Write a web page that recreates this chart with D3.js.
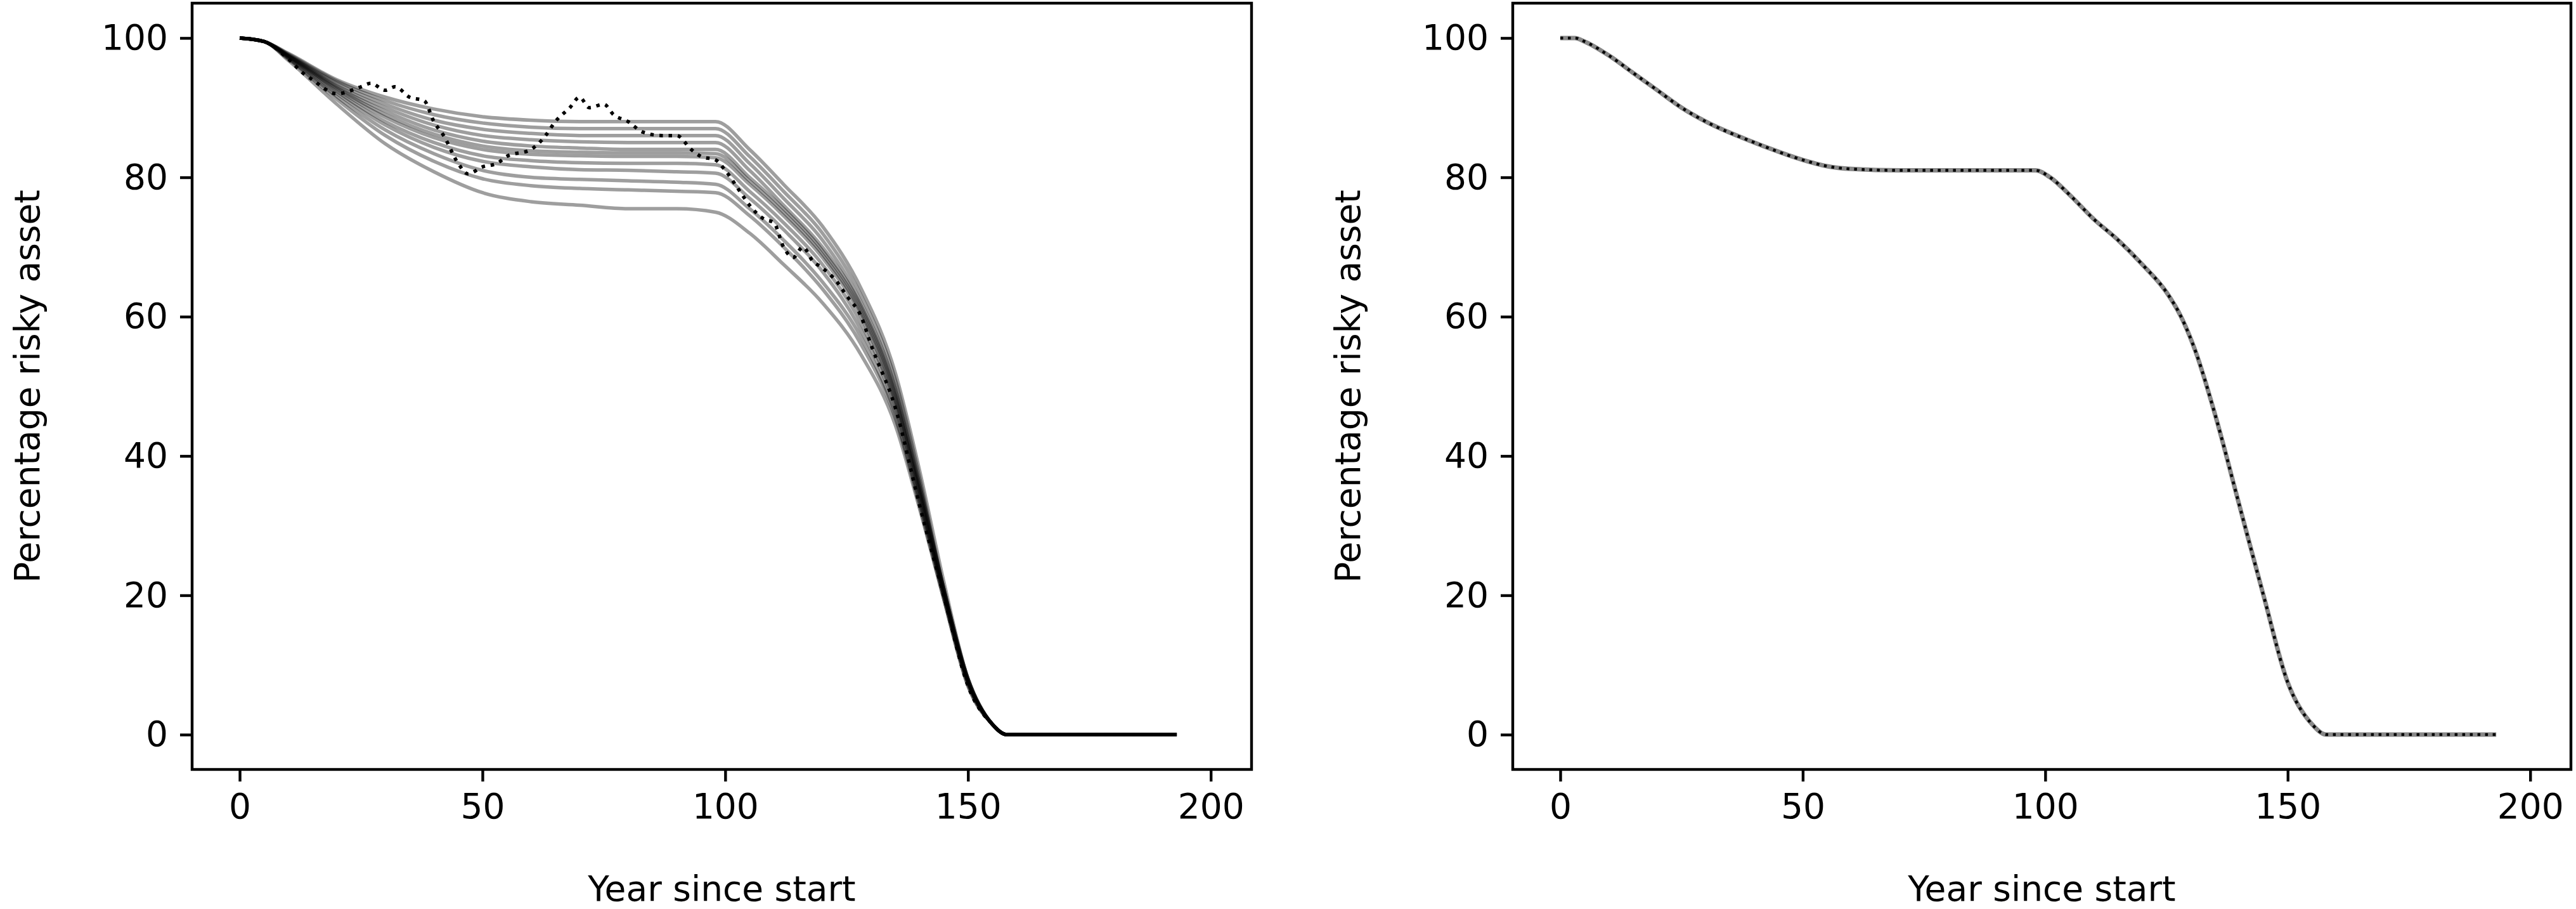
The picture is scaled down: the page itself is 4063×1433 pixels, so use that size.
<!DOCTYPE html>
<html><head><meta charset="utf-8">
<script src="https://cdn.jsdelivr.net/npm/d3@7"></script>
<style>body{margin:0;background:#fff}svg{display:block}</style>
</head><body>
<svg id="c" width="4063" height="1433"></svg>
<script>
const knotYears = [0,5,10,20,30,40,50,60,70,80,90,98,105,112,120,128,135,140,145,150,155,158,165,193];
const paths = [
[100,99.5,97.8,94,91.5,89.8,88.7,88.2,88,88,88,88,84,79,73,64,52,38,22,8,1.5,0,0,0],
[100,99.5,97.7,93.8,91,89,87.8,87.2,87,87,87,87,83,78,72,63,51,37,21,8,1.5,0,0,0],
[100,99.5,97.6,93.5,90.5,88.2,86.9,86.3,86,86,86,86,82,77,71,62,50,36,21,8,1.5,0,0,0],
[100,99.5,97.5,93.2,90,87.5,86,85.4,85.1,85,85,85,81,76,70,61.5,49.5,36,21,8,1.5,0,0,0],
[100,99.5,97.5,93,89.5,86.8,85.2,84.5,84.2,84,84,84,80,75.5,69.5,61,49,35.5,21,8,1.5,0,0,0],
[100,99.5,97.4,92.8,89,86.2,84.5,83.8,83.6,83.5,83.5,83.4,79.5,75,69,60.5,48.5,35,20.5,7.5,1.5,0,0,0],
[100,99.5,97.4,92.6,88.6,85.7,84,83.3,83.1,83,83,82.8,79,74.5,68.5,60,48,35,20.5,7.5,1.5,0,0,0],
[100,99.5,97.3,92.3,88,85,83.1,82.4,82.1,82,82,81.8,78,73.5,67.5,59,47.5,34.5,20,7.5,1.5,0,0,0],
[100,99.5,97.2,92,87.5,84.3,82.3,81.5,81.1,81,80.8,80.6,77,72.5,66.5,58,47,34,20,7.5,1.5,0,0,0],
[100,99.5,97.1,91.6,86.8,83.4,81,80,79.7,79.5,79.3,79,75.5,71,65,57,46,33.5,20,7.5,1.5,0,0,0],
[100,99.5,97,91.2,86,82.3,79.8,78.8,78.4,78.2,78,77.8,74.5,70,64,56,45.5,33,19.5,7,1.5,0,0,0],
[100,99.5,96.8,90.5,84.8,80.8,77.8,76.5,76,75.5,75.5,75,72,67.5,62,54.5,44.5,32.5,19.5,7,1.5,0,0,0]
];
const realYears = [0,5,10,13,15,20,25,27,30,32,35,38,40,42,45,47,50,53,55,60,63,65,68,70,72,75,77,80,83,87,90,93,95,98,100,103,105,108,110,112,114,116,118,120,123,125,128,130,135,140,145,150,155,158,165,193];
const realPath = [100,99.5,97,95,94,92,93,93.5,92.5,93,91.5,91,88,86,82,80.5,81.5,82,83,84,86,88,90,91.5,90,90.5,89,88,86.5,86,86,84,83,82.5,81,78,76,74,73.5,70,68.5,70,68,67,65,63,60,56,47,33,20,7,1.5,0,0,0];
const meanYears = [0,3,5,10,15,20,25,30,40,50,55,60,70,80,90,98,101,105,110,115,120,125,128,131,135,140,145,150,155,158,165,193];
const meanPath = [100,100,99.5,97.5,95,92.5,90,88,85,82.5,81.6,81.2,81,81,81,81,80,77.5,74,71,67.5,63.5,60,55,46,33,20,7.5,1.5,0,0,0];
const xTicks = [0,50,100,150,200];
const yTicks = [0,20,40,60,80,100];

const svg = d3.select("#c");
const FONT = "DejaVu Sans";
const panels = [{x0:303,x1:1974},{x0:2386,x1:4055}];
const plotTop = 5, plotBottom = 1213;

panels.forEach((p,i)=>{
  const x = d3.scaleLinear().domain([-9.8,208.4]).range([p.x0,p.x1]);
  const y = d3.scaleLinear().domain([-5,105]).range([plotBottom,plotTop]);
  const g = svg.append("g");
  const line = (xs)=>d3.line().x((d,k)=>x(xs[k])).y(d=>y(d)).curve(d3.curveMonotoneX);
  if(i===0){
    paths.forEach(pv=>{
      g.append("path").attr("d",line(knotYears)(pv)).attr("fill","none")
       .attr("stroke","#000").attr("stroke-opacity",0.38).attr("stroke-width",5.5);
    });
    g.append("path").attr("d",line(realYears)(realPath)).attr("fill","none")
     .attr("stroke","#000").attr("stroke-width",5.5).attr("stroke-dasharray","5.5,9");
  } else {
    g.append("path").attr("d",line(meanYears)(meanPath)).attr("fill","none")
     .attr("stroke","#888").attr("stroke-width",7);
    g.append("path").attr("d",line(meanYears)(meanPath)).attr("fill","none")
     .attr("stroke","#000").attr("stroke-width",4.5).attr("stroke-dasharray","4.5,7.5");
  }
  g.append("rect").attr("x",p.x0).attr("y",plotTop).attr("width",p.x1-p.x0).attr("height",plotBottom-plotTop)
   .attr("fill","none").attr("stroke","#000").attr("stroke-width",4.4);
  const xa = g.append("g").attr("transform",`translate(0,${plotBottom})`)
    .call(d3.axisBottom(x).tickValues(xTicks).tickSize(19).tickPadding(19).tickFormat(d3.format("d")));
  const ya = g.append("g").attr("transform",`translate(${p.x0},0)`)
    .call(d3.axisLeft(y).tickValues(yTicks).tickSize(19).tickPadding(19).tickFormat(d3.format("d")));
  [xa,ya].forEach(a=>{
    a.select(".domain").remove();
    a.selectAll("line").attr("stroke","#000").attr("stroke-width",4.4);
    a.selectAll("text").attr("font-family",FONT).attr("font-size",55).attr("fill","#000");
  });
  g.append("text").attr("x",(p.x0+p.x1)/2).attr("y",1420).attr("text-anchor","middle")
   .attr("font-family",FONT).attr("font-size",55).text("Year since start");
  g.append("text").attr("transform",`translate(${p.x0-260},${(plotTop+plotBottom)/2}) rotate(-90)`)
   .attr("text-anchor","middle").attr("dominant-baseline","central")
   .attr("font-family",FONT).attr("font-size",55).text("Percentage risky asset");
});
</script>
</body></html>
